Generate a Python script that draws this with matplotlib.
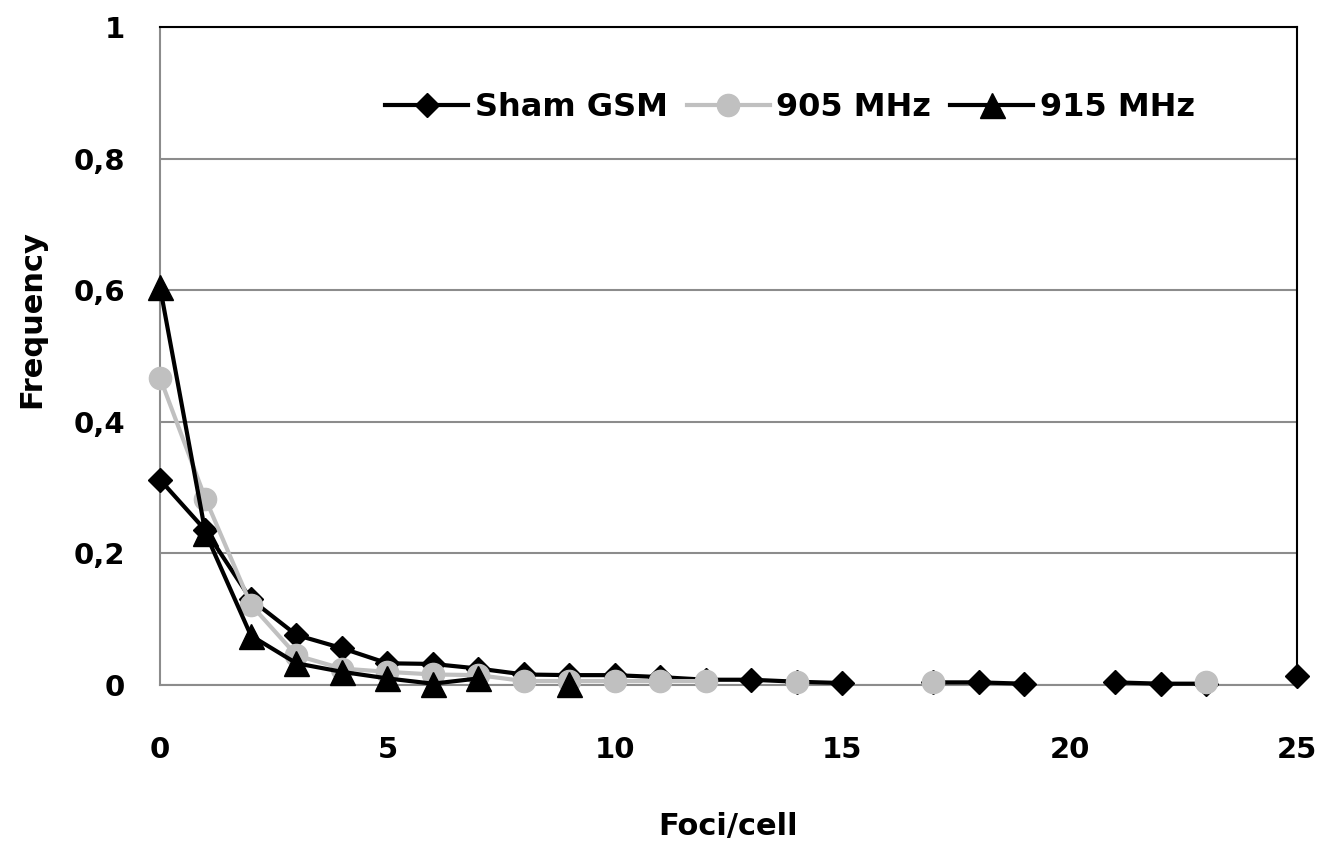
import numpy as np
import matplotlib
matplotlib.use("Agg")
import matplotlib.pyplot as plt

nan = np.nan
foci = list(range(26))
sham_gsm = [0.312, 0.235, 0.130, 0.076, 0.056, 0.033, 0.032, 0.025, 0.016, 0.015,
            0.015, 0.012, 0.008, 0.008, 0.005, 0.003, nan, 0.004, 0.004, 0.002,
            nan, 0.004, 0.002, 0.002, nan, 0.013]
mhz905 = [0.467, 0.283, 0.122, 0.045, 0.025, 0.020, 0.016, 0.015, 0.006, 0.006,
          0.006, 0.006, 0.006, nan, 0.004, nan, nan, 0.004, nan, nan,
          nan, nan, nan, 0.005, nan, nan]
mhz915 = [0.605, 0.231, 0.075, 0.033, 0.020, 0.010, 0.002, 0.010, nan, 0.002,
          nan, nan, nan, nan, nan, nan, nan, nan, nan, nan,
          nan, nan, nan, nan, nan, nan]
labels = ["Sham GSM", "905 MHz", "915 MHz"]
yticks = [0, 0.2, 0.4, 0.6, 0.8, 1.0]
ytick_labels = ["0", "0,2", "0,4", "0,6", "0,8", "1"]
xticks = [0, 5, 10, 15, 20, 25]

plt.rcParams['font.family'] = ['DejaVu Sans']
plt.rcParams['font.weight'] = 'bold'

fig = plt.figure(figsize=(13.24, 8.56), dpi=100)
ax = fig.add_axes([160/1324, 1-685/856, 1137/1324, 658/856])

ax.plot(foci, sham_gsm, color='black', lw=3, marker='D', ms=12.5,
        clip_on=False, zorder=3, label=labels[0])
ax.plot(foci, mhz905, color='#c0c0c0', lw=3, marker='o', ms=16,
        clip_on=False, zorder=4, label=labels[1])
ax.plot(foci, mhz915, color='black', lw=3, marker='^', ms=18,
        clip_on=False, zorder=5, label=labels[2])

ax.set_xlim(0, 25)
ax.set_ylim(0, 1)
ax.set_yticks(yticks)
ax.set_yticklabels(ytick_labels)
ax.set_xticks(xticks)
ax.tick_params(axis='both', length=0, labelsize=21)
ax.tick_params(axis='y', pad=25)
ax.tick_params(axis='x', pad=37)
for lab in ax.get_xticklabels() + ax.get_yticklabels():
    lab.set_fontweight('bold')

ax.grid(axis='y', color='#8c8c8c', lw=1.5, zorder=0)
ax.set_axisbelow(True)
ax.spines['left'].set_color('#8c8c8c')
ax.spines['bottom'].set_color('#8c8c8c')
ax.spines['top'].set_color('black')
ax.spines['right'].set_color('black')
for s in ax.spines.values():
    s.set_linewidth(1.5)

ax.set_xlabel("Foci/cell", fontsize=22, fontweight='bold', va='center')
ax.xaxis.set_label_coords(0.5, -(826-685)/658)
ax.set_ylabel("Frequency", fontsize=22, fontweight='bold', va='center')
ax.yaxis.set_label_coords((32-160)/1137, (685-319)/658)

ax.legend(loc='center', bbox_to_anchor=(0.554, 0.878), ncol=3, frameon=False,
          handlelength=2.6, handletextpad=0.2, columnspacing=0.6,
          prop={'weight': 'bold', 'size': 23})

fig.savefig("out.png", dpi=100)
